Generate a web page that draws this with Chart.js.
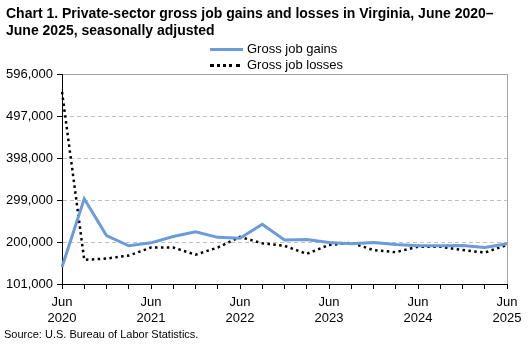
<!DOCTYPE html>
<html>
<head>
<meta charset="utf-8">
<script src="https://cdn.jsdelivr.net/npm/chart.js@4/dist/chart.umd.min.js"></script>
<style>
  html, body { margin: 0; padding: 0; background: #fff; }
  #wrap { position: relative; width: 530px; height: 347px; overflow: hidden; font-family: "Liberation Sans", Arial, sans-serif; color: #000; }
  #title { position: absolute; left: 6px; top: 5px; font-weight: bold; font-size: 14px; line-height: 17px; white-space: nowrap; }
  .leg { position: absolute; left: 210px; font-size: 13px; line-height: 14px; white-space: nowrap; }
  .leg span.sw { display: inline-block; width: 33px; vertical-align: middle; margin-right: 4px; }
  #source { position: absolute; left: 4px; top: 328px; font-size: 11px; white-space: nowrap; }
  canvas { position: absolute; left: 0; top: 0; }
</style>
</head>
<body>
<div id="wrap">
  <canvas id="c" width="530" height="347"></canvas>
  <div id="title">Chart 1. Private-sector gross job gains and losses in Virginia, June 2020–<br>June 2025, seasonally adjusted</div>
  <div class="leg" id="leg1" style="top:42px;"><span class="sw" style="border-top:3px solid #6b9bd8;height:0;"></span>Gross job gains</div>
  <div class="leg" id="leg2" style="top:58px;"><span class="sw" style="border-top:3px dotted #000;height:0;width:30px;margin-right:7px;"></span>Gross job losses</div>
  <div id="source">Source: U.S. Bureau of Labor Statistics.</div>
</div>
<script>
const quarters = ['Jun 2020','Sep 2020','Dec 2020','Mar 2021','Jun 2021','Sep 2021','Dec 2021','Mar 2022','Jun 2022','Sep 2022','Dec 2022','Mar 2023','Jun 2023','Sep 2023','Dec 2023','Mar 2024','Jun 2024','Sep 2024','Dec 2024','Mar 2025','Jun 2025'];
const grossJobGains = [141000, 302000, 215000, 191000, 198000, 213000, 224000, 211000, 209000, 242000, 205000, 206000, 199000, 196000, 199000, 194000, 191000, 191000, 192000, 187000, 196000];
const grossJobLosses = [554000, 158000, 161000, 168000, 187000, 187000, 170000, 187000, 212000, 197000, 191000, 172000, 193000, 198000, 181000, 176000, 189000, 189000, 181000, 175000, 193000];
const yTicks = [101000, 200000, 299000, 398000, 497000, 596000];

const FONT = '"Liberation Sans", Arial, sans-serif';

new Chart(document.getElementById('c'), {
  type: 'line',
  data: {
    labels: quarters,
    datasets: [
      { label: 'Gross job gains', data: grossJobGains, borderColor: '#6b9bd8', borderWidth: 3, pointRadius: 0, tension: 0, fill: false, borderJoinStyle: 'miter' },
      { label: 'Gross job losses', data: grossJobLosses, borderColor: '#000', borderWidth: 2.5, borderDash: [2.5, 3.4], pointRadius: 0, tension: 0, fill: false }
    ]
  },
  options: {
    responsive: false,
    animation: false,
    layout: { padding: { top: 74, right: 23, bottom: 0, left: 0 } },
    plugins: { legend: { display: false }, tooltip: { enabled: false }, title: { display: false } },
    scales: {
      x: {
        type: 'category',
        offset: false,
        afterFit: s => { s.height = 63; },
        grid: {
          drawOnChartArea: true,
          color: c => (c.index === quarters.length - 1 ? '#a6a6a6' : 'rgba(0,0,0,0)'),
          tickColor: '#000',
          tickLength: 5,
          lineWidth: 1
        },
        border: { display: true, color: '#000', width: 1 },
        ticks: {
          autoSkip: false,
          maxRotation: 0,
          minRotation: 0,
          padding: 6,
          color: '#000',
          font: { family: FONT, size: 13 },
          callback: function (v, i) {
            const q = quarters[i];
            return q.startsWith('Jun') ? q.split(' ') : '';
          }
        }
      },
      y: {
        min: yTicks[0],
        max: yTicks[yTicks.length - 1],
        afterFit: s => { s.width = 62; },
        afterBuildTicks: s => { s.ticks = yTicks.map(v => ({ value: v })); },
        grid: {
          color: c => (c.tick && c.tick.value === yTicks[0] ? '#000' : (c.tick && c.tick.value === yTicks[yTicks.length - 1] ? '#a6a6a6' : '#c0c0c0')),
          tickColor: '#000',
          tickLength: 5,
          lineWidth: 1
        },
        border: {
          display: true, color: '#000', width: 1,
          dash: c => (c.tick && (c.tick.value === yTicks[0] || c.tick.value === yTicks[yTicks.length - 1]) ? [] : [4, 3])
        },
        ticks: {
          padding: 4,
          color: '#000',
          font: { family: FONT, size: 13 },
          callback: v => Number(v).toLocaleString('en-US')
        }
      }
    }
  }
});
</script>
</body>
</html>
